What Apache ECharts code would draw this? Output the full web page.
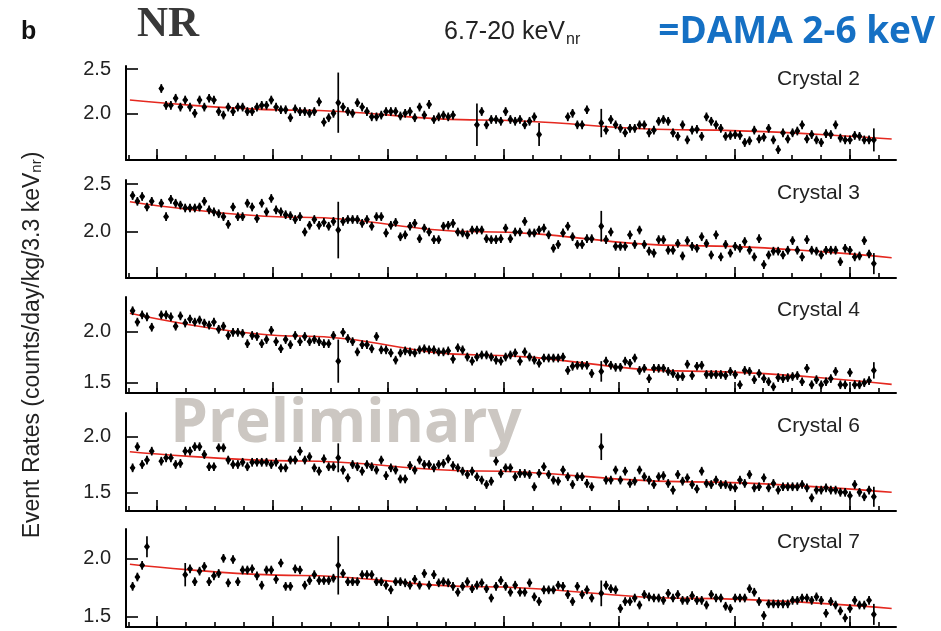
<!DOCTYPE html>
<html><head><meta charset="utf-8">
<script src="https://cdn.jsdelivr.net/npm/echarts@6/dist/echarts.min.js"></script>
<style>html,body{margin:0;padding:0;background:#fff}#c{width:941px;height:631px}</style>
</head><body><div id="c"></div>
<script>
// ---------------- data ----------------
const crystals = ['Crystal 2', 'Crystal 3', 'Crystal 4', 'Crystal 6', 'Crystal 7'];

// event rates per time bin (null = no data)
const crystal2 = [null,null,null,null,null,null,2.28,2.09,2.09,2.17,2.07,2.15,2.07,2.00,2.15,2.07,2.17,2.15,2.02,1.98,
2.07,2.02,2.07,2.07,2.02,2.02,2.07,2.09,2.09,2.15,2.07,2.04,2.04,1.95,2.05,2.02,2.02,2.00,2.02,2.13,
1.90,1.95,2.00,2.12,2.07,2.02,2.00,2.12,2.07,2.02,1.96,1.96,1.98,2.02,2.02,2.02,1.97,2.00,2.02,1.95,
2.07,1.98,2.10,1.93,1.96,1.98,1.96,1.98,null,null,null,null,1.87,2.02,1.87,1.93,1.93,1.91,2.02,1.93,
1.91,1.93,1.87,1.91,1.96,1.76,null,null,null,null,null,1.96,2.00,1.87,1.87,2.04,null,null,1.89,1.81,
1.93,1.87,1.83,1.78,1.83,1.83,1.87,1.87,1.78,1.81,1.91,1.93,1.91,1.78,1.74,1.87,1.70,1.81,1.82,1.74,
1.96,1.91,1.87,1.83,1.74,1.75,1.76,1.75,1.67,1.69,1.81,1.71,1.73,1.83,1.70,1.59,1.78,1.71,1.78,1.80,
1.87,1.71,1.76,1.70,1.67,1.77,1.76,1.87,1.72,1.70,1.70,1.75,1.74,1.70,1.70,1.70];
const crystal3 = [2.38,2.32,2.37,2.26,2.32,null,2.30,2.16,2.34,2.30,2.28,2.25,2.25,2.25,2.26,2.32,2.23,2.21,2.19,2.16,
2.08,2.26,2.16,2.16,2.30,2.26,2.14,2.30,2.21,2.35,2.23,2.21,2.18,2.17,2.13,2.16,2.00,2.07,2.13,2.07,
2.10,2.06,2.11,2.02,2.11,2.13,2.13,2.13,2.09,2.13,2.06,2.16,2.16,1.99,2.07,2.10,1.95,1.97,2.06,2.09,
1.93,2.04,2.00,1.92,1.92,2.06,2.07,2.09,2.00,1.99,1.97,2.02,2.02,2.02,1.93,1.92,1.92,1.93,2.04,1.93,
2.00,2.00,2.11,1.99,1.99,2.02,2.04,1.97,1.83,1.87,1.99,2.06,1.95,1.87,1.87,1.93,1.93,null,2.06,1.92,
2.00,1.85,1.85,1.85,1.97,1.87,2.02,1.87,1.80,1.78,1.92,1.92,1.81,1.81,1.88,1.75,1.91,1.85,1.83,1.95,
1.88,1.76,1.97,1.74,1.87,1.78,1.85,1.83,1.90,1.81,1.74,1.93,1.66,1.76,1.80,1.80,1.76,1.81,1.91,1.81,
1.74,1.92,1.81,1.80,1.76,1.81,1.81,1.81,1.69,1.83,1.81,1.74,1.75,1.91,1.77,1.67];
const crystal4 = [2.20,2.09,2.16,2.14,2.04,null,2.16,2.16,2.14,2.05,2.15,2.08,2.12,2.09,2.11,2.08,2.06,2.09,2.02,2.05,
1.96,1.99,1.99,1.98,1.88,1.96,1.95,1.88,1.92,2.01,1.90,1.83,1.92,1.87,1.96,1.90,1.95,1.90,1.92,1.90,
1.88,1.88,1.96,1.71,1.99,1.93,1.90,1.80,1.87,1.87,1.83,1.95,1.82,1.82,1.79,1.72,1.79,1.81,1.80,1.79,
1.82,1.83,1.82,1.82,1.80,1.80,1.81,1.73,1.84,1.82,1.75,1.71,1.75,1.77,1.77,1.75,1.72,1.71,1.75,1.77,
1.79,1.71,1.80,1.75,1.72,1.69,1.74,1.74,1.74,1.74,1.75,1.62,1.66,1.67,1.67,1.67,1.59,null,1.61,1.71,
1.67,1.65,1.65,1.71,1.69,1.74,1.62,1.64,1.54,1.64,1.64,1.64,1.61,1.59,1.56,1.56,1.68,1.57,1.66,1.67,
1.58,1.58,1.58,1.58,1.57,1.61,1.58,1.48,1.62,1.61,1.53,1.59,1.54,1.51,1.46,1.55,1.54,1.55,1.56,1.57,
1.51,1.64,1.48,1.53,1.48,1.51,1.54,1.61,1.48,1.48,1.60,1.48,1.48,1.50,1.52,1.62];
const crystal6 = [1.72,1.91,1.75,1.79,1.87,null,1.78,1.81,1.81,1.75,1.76,1.87,1.87,1.91,1.91,1.84,1.73,1.73,1.90,1.90,
1.79,1.75,1.75,1.77,1.73,1.77,1.77,1.77,1.77,1.75,1.77,1.72,1.72,1.79,1.79,1.87,1.79,1.82,1.72,1.69,
1.80,1.73,1.73,1.81,1.70,1.63,1.75,1.73,1.69,1.75,1.73,1.70,1.79,1.65,1.72,1.70,1.62,1.62,1.74,1.70,
1.79,1.75,1.75,1.72,1.75,1.76,1.80,1.74,1.72,1.69,1.66,1.69,1.64,1.61,1.57,1.60,1.78,1.67,1.72,1.72,
1.64,1.67,1.67,1.66,1.55,1.67,1.73,1.66,1.61,1.60,1.70,1.64,1.57,1.64,1.64,1.58,1.55,null,1.91,1.61,
1.61,1.70,1.61,1.69,1.58,1.60,1.70,1.64,1.61,1.57,1.64,1.65,1.58,1.52,1.66,1.60,1.63,1.57,1.53,1.69,
1.58,1.57,1.61,1.57,1.57,1.55,1.54,1.61,1.58,1.66,1.54,1.55,1.63,1.54,1.58,1.52,1.55,1.55,1.55,1.55,
1.57,1.54,1.45,1.52,1.52,1.54,1.52,1.52,1.50,1.50,1.47,1.57,1.50,1.46,1.52,1.46];
const crystal7 = [1.76,1.84,1.94,2.10,null,null,null,null,null,null,null,1.86,1.91,1.80,1.89,1.93,1.80,1.85,1.87,2.00,
1.79,1.99,1.80,1.90,1.90,1.91,1.85,1.77,1.90,1.90,1.82,1.96,1.76,1.76,1.91,1.90,1.77,1.81,1.86,1.81,
1.81,1.81,1.83,1.94,1.87,1.80,1.80,1.80,1.86,1.86,1.86,1.80,1.80,1.77,1.73,1.80,1.80,1.79,1.77,1.82,
1.77,1.87,1.77,1.86,1.79,1.80,1.79,1.76,1.71,1.76,1.80,1.74,1.77,1.79,1.74,1.66,1.76,1.81,1.76,1.71,
1.77,1.71,1.71,1.79,1.67,1.63,1.73,1.73,1.73,1.77,1.76,1.69,1.63,1.76,1.69,1.73,1.66,null,1.70,1.77,
1.74,1.73,1.57,1.63,1.63,1.66,1.60,1.69,1.67,1.66,1.66,1.64,1.70,1.66,1.69,1.64,1.64,1.68,1.64,1.64,
1.60,1.69,1.66,1.66,1.59,1.57,1.66,1.66,1.66,1.74,1.71,1.63,1.51,1.61,1.61,1.61,1.61,1.61,1.64,1.64,
1.66,1.66,1.64,1.67,1.64,1.53,1.63,1.60,1.55,1.49,1.57,1.64,1.60,1.60,1.64,1.52];
const rates = [crystal2, crystal3, crystal4, crystal6, crystal7];

// statistical error: typical value per crystal, and bins with larger errors
const errTypical = [0.049, 0.045, 0.042, 0.039, 0.037];
const errLarge = [
  {43: 0.34, 72: 0.24, 85: 0.13, 98: 0.16, 155: 0.13},
  {43: 0.295, 98: 0.16, 155: 0.11},
  {43: 0.21, 98: 0.10, 155: 0.08},
  {43: 0.13, 98: 0.12, 155: 0.09},
  {3: 0.09, 11: 0.10, 43: 0.25, 98: 0.11, 155: 0.09}
];

// fitted trend (red curve), read at a few times along the axis
const fitTime = [0.055, 5.944, 12.18, 19.45, 26.45];
const fitRates = [
  [2.150, 2.035, 1.924, 1.813, 1.710],
  [2.316, 2.153, 2.003, 1.858, 1.732],
  [2.175, 1.954, 1.769, 1.613, 1.484],
  [1.865, 1.782, 1.692, 1.594, 1.500],
  [1.949, 1.853, 1.757, 1.657, 1.571]
];

// time axis (bin centres, in units of the minor tick spacing)
const binFirst = 0.149, binStep = 0.1657;
const minorTickValues = [0,1,2,3,4,5,6,7,8,9,10,11,12,13,14,15,16,17,18,19,20,21,22,23,24,25,26];
const majorTickValues = [1,5,9,13,17,21,25];
const yTickValues = [[2.0, 2.5], [2.0, 2.5], [1.5, 2.0], [1.5, 2.0], [1.5, 2.0]];
const yRanges = [[1.473, 2.534], [1.52, 2.542], [1.40, 2.334], [1.332, 2.213], [1.412, 2.251]];
const xRange = [-0.08, 26.6];

// ---------------- layout ----------------
const gridTops = [66, 180, 297, 413, 529];
const gridHeights = [94, 98, 96, 98, 98];
const GRID_LEFT = 126, GRID_WIDTH = 770;
const FONT = '"Liberation Sans", Arial, sans-serif';
const HALF_BIN = 0.08;

function renderPoint(params, api) {
  const x = api.value(0), y = api.value(1), e = api.value(2);
  const c = api.coord([x, y]);
  const t = api.coord([x, y + e]);
  const b = api.coord([x, y - e]);
  const l = api.coord([x - HALF_BIN, y]);
  const r = api.coord([x + HALF_BIN, y]);
  return {
    type: 'group',
    children: [
      {type: 'line', shape: {x1: c[0], y1: t[1], x2: c[0], y2: b[1]}, style: {stroke: '#000', lineWidth: 1.7}},
      {type: 'line', shape: {x1: l[0], y1: c[1], x2: r[0], y2: c[1]}, style: {stroke: '#000', lineWidth: 1.7}},
      {type: 'polygon', shape: {points: [[c[0], c[1] - 4.2], [c[0] + 2.9, c[1]], [c[0], c[1] + 4.2], [c[0] - 2.9, c[1]]]}, style: {fill: '#000'}}
    ]
  };
}

const grids = [], xAxes = [], yAxes = [], series = [], graphics = [];
const tickStyle = {color: '#000', width: 1.6};
rates.forEach((vals, k) => {
  grids.push({left: GRID_LEFT, width: GRID_WIDTH, top: gridTops[k], height: gridHeights[k], containLabel: false});
  xAxes.push({
    gridIndex: k, type: 'value', position: 'bottom', min: xRange[0], max: xRange[1],
    axisLine: {show: true, onZero: false, lineStyle: {color: '#000', width: 2}},
    axisTick: {show: true, inside: true, length: 5, customValues: minorTickValues, lineStyle: tickStyle},
    axisLabel: {show: false}, splitLine: {show: false}
  });
  xAxes.push({
    gridIndex: k, type: 'value', position: 'bottom', min: xRange[0], max: xRange[1],
    axisLine: {show: false, onZero: false},
    axisTick: {show: true, inside: true, length: 11, customValues: majorTickValues, lineStyle: tickStyle},
    axisLabel: {show: false}, splitLine: {show: false}
  });
  yAxes.push({
    gridIndex: k, type: 'value', min: yRanges[k][0], max: yRanges[k][1],
    axisLine: {show: true, onZero: false, lineStyle: {color: '#000', width: 2}},
    axisTick: {show: true, inside: true, length: 12, customValues: yTickValues[k], lineStyle: tickStyle},
    axisLabel: {show: true, customValues: yTickValues[k], formatter: v => Number(v).toFixed(1),
      fontSize: 20, color: '#222', fontFamily: FONT, margin: 15},
    splitLine: {show: false}
  });
  const data = [];
  vals.forEach((v, i) => {
    if (v === null) return;
    const e = errLarge[k][i] !== undefined ? errLarge[k][i] : errTypical[k];
    data.push([binFirst + i * binStep, v, e]);
  });
  series.push({
    type: 'line', xAxisIndex: 2 * k, yAxisIndex: k, silent: true, symbol: 'none', z: 1,
    smooth: 0.4, smoothMonotone: 'x',
    data: fitTime.map((t, j) => [t, fitRates[k][j]]),
    lineStyle: {color: '#e5281f', width: 1.6}
  });
  series.push({
    type: 'custom', xAxisIndex: 2 * k, yAxisIndex: k, silent: true, clip: true, z: 3,
    renderItem: renderPoint, encode: {x: 0, y: 1}, data: data
  });
  graphics.push({
    type: 'text', x: 777, y: gridTops[k] + 13, z: 10,
    style: {text: crystals[k], fontSize: 21, fontFamily: FONT, fill: '#222', align: 'left', verticalAlign: 'middle'}
  });
});

graphics.push(
  {type: 'text', x: 346, y: 425, z: 0,
   style: {text: 'Preliminary', fontSize: 60, fontWeight: 'bold', fontFamily: '"Open Sans", "Noto Sans", sans-serif',
           fill: '#ccc7c2', align: 'center', verticalAlign: 'middle'}},
  {type: 'text', x: 21, y: 32, z: 10,
   style: {text: 'b', fontSize: 25, fontWeight: 'bold', fontFamily: FONT, fill: '#111', align: 'left', verticalAlign: 'middle'}},
  {type: 'text', x: 168, y: 25, z: 10,
   style: {text: 'NR', fontSize: 43, fontWeight: 'bold', fontFamily: '"Liberation Serif", "DejaVu Serif", serif',
           fill: '#383838', align: 'center', verticalAlign: 'middle'}},
  {type: 'text', x: 565, y: 32, z: 10,
   style: {text: '6.7-20 keV', fontSize: 25, fontFamily: FONT, fill: '#222', align: 'right', verticalAlign: 'middle'}},
  {type: 'text', x: 566, y: 40, z: 10,
   style: {text: 'nr', fontSize: 16, fontFamily: FONT, fill: '#222', align: 'left', verticalAlign: 'middle'}},
  {type: 'text', x: 935, y: 32, z: 10,
   style: {text: '=DAMA 2-6 keV', fontSize: 37, fontWeight: 'bold', fontFamily: '"Open Sans", "Noto Sans", sans-serif',
           fill: '#1570c4', align: 'right', verticalAlign: 'middle'}},
  {type: 'text', x: 33, y: 345, rotation: Math.PI / 2, z: 10,
   style: {text: '{m|Event Rates (counts/day/kg/3.3 keV}{s|nr}{m|)}', align: 'center', verticalAlign: 'middle',
           rich: {m: {fontSize: 23, fontFamily: FONT, fill: '#222', color: '#222'},
                  s: {fontSize: 15, fontFamily: FONT, fill: '#222', color: '#222', verticalAlign: 'bottom'}}}}
);

const chart = echarts.init(document.getElementById('c'), null, {renderer: 'canvas'});
chart.setOption({
  animation: false,
  backgroundColor: '#fff',
  grid: grids, xAxis: xAxes, yAxis: yAxes, series: series,
  graphic: graphics
});
</script></body></html>
